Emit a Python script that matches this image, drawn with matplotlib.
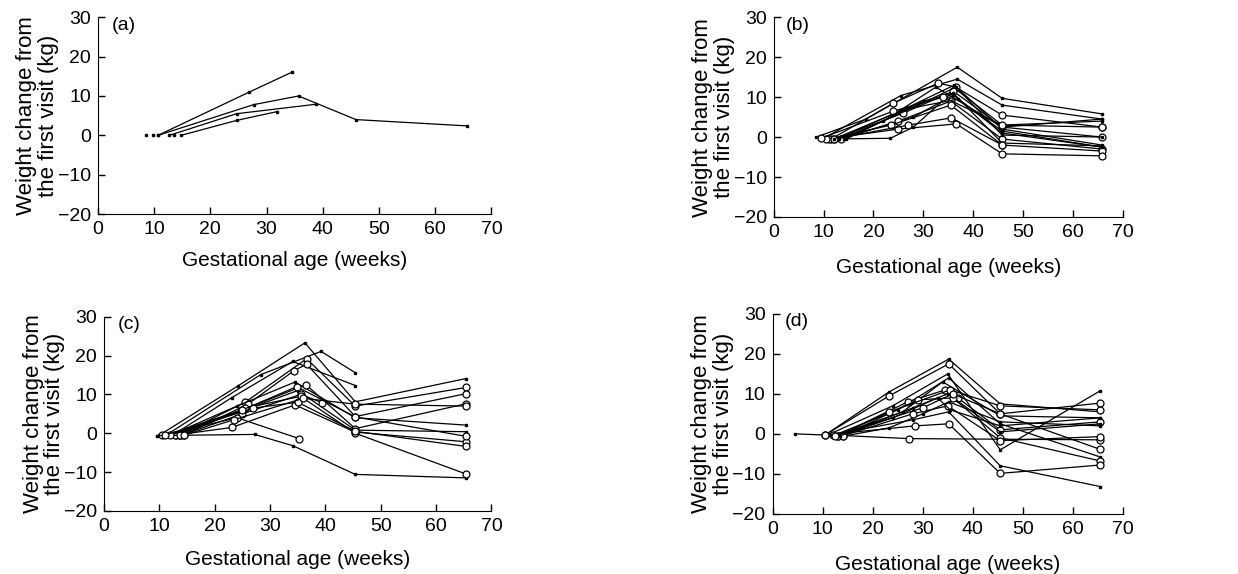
import matplotlib
matplotlib.use("Agg")
import matplotlib.pyplot as plt

plt.rcParams["font.family"] = ["Liberation Sans", "DejaVu Sans"]

# ---- data: each subject is (weeks, kg, open_marker) ----
a_lines = [
    ([10.7, 26.8, 34.6], [0, 10.9, 16.1], False),
    ([10.7, 27.7, 35.7, 45.9, 65.7], [0, 7.8, 10.0, 4.0, 2.4], False),
    ([12.7, 24.7, 38.8], [0, 5.5, 7.9], False),
    ([14.8, 24.7, 31.8], [0, 3.8, 6.0], False),
    ([8.6], [0], False),
    ([9.8], [0], False),
    ([13.6], [0], False),
]

b_lines = [
    ([8.5, 18.5, 36.8, 45.8, 65.8], [0, 4.5, 17.5, 9.7, 5.8], False),
    ([10.0, 25.5, 36.8, 45.8, 65.8], [-0.3, 10.4, 14.5, 8.0, 4.5], False),
    ([11.0, 23.4, 28.0, 36.5, 45.8, 65.8], [-0.5, -0.3, 2.5, 12.0, 3.0, 4.0], False),
    ([11.5, 24.0, 33.0, 36.5, 45.8, 65.8], [-0.5, 8.5, 13.5, 12.5, 5.5, 2.5], True),
    ([12.0, 26.0, 36.0, 45.8, 65.8], [-0.5, 6.0, 11.5, 2.5, 0.0], True),
    ([12.5, 27.0, 36.2, 45.8, 65.8], [-0.5, 7.5, 13.0, 2.0, -2.0], False),
    ([13.0, 28.0, 36.0, 45.8, 65.8], [-0.5, 5.0, 10.5, 1.0, -2.5], False),
    ([13.5, 25.0, 35.5, 45.8, 65.8], [-0.5, 4.0, 9.0, -0.5, -3.0], True),
    ([14.0, 29.0, 36.5, 45.8, 65.8], [-0.5, 8.0, 12.5, 0.5, 0.0], False),
    ([14.5, 30.0, 36.0, 45.8, 65.8], [-0.5, 9.0, 11.0, -1.5, -2.2], False),
    ([11.0, 23.5, 35.5, 45.8, 65.8], [-0.5, 3.0, 8.0, -2.0, -3.5], True),
    ([10.5, 25.0, 36.6, 45.8, 65.8], [-0.5, 2.0, 3.3, -4.2, -4.7], True),
    ([12.0, 27.0, 35.6, 45.8], [-0.5, 3.0, 4.8, -2.0], True),
    ([13.0, 22.0, 32.5, 45.8, 65.8], [-0.5, 4.0, 12.5, 2.5, 4.5], False),
    ([9.5, 24.0, 34.0, 45.8, 65.8], [-0.3, 6.5, 10.0, 3.0, 2.5], True),
    ([12.0, 26.5, 37.0, 45.8, 65.8], [-0.5, 7.0, 9.5, 1.5, -2.5], False),
]

c_lines = [
    ([10.0, 24.2, 36.3, 45.4, 65.4], [-0.5, 12.2, 23.3, 8.1, 14.1], False),
    ([11.2, 28.3, 39.2, 45.4], [-0.5, 15.1, 21.1, 15.6], False),
    ([12.4, 23.1, 34.1, 45.4], [-0.5, 9.2, 18.5, 12.3], False),
    ([13.5, 25.5, 36.6, 45.4, 65.4], [-0.5, 8.0, 19.2, 7.0, 11.8], True),
    ([14.4, 26.0, 34.3, 36.6, 45.4, 65.4], [-0.5, 7.5, 16.1, 17.8, 4.3, 10.2], True),
    ([12.0, 24.0, 34.5, 45.4, 65.4], [-0.5, 7.0, 13.2, 4.0, 2.1], False),
    ([13.0, 25.0, 36.5, 45.4, 65.4], [-0.5, 6.0, 12.5, 1.2, 7.6], True),
    ([11.5, 24.5, 35.0, 45.4, 65.4], [-0.5, 5.5, 11.0, 0.8, 0.4], False),
    ([14.0, 25.0, 35.5, 39.4], [-0.5, 5.0, 10.0, 7.9], True),
    ([12.8, 23.1, 34.5, 45.4, 65.4], [-0.5, 1.5, 7.3, 0.3, -2.2], True),
    ([10.5, 24.0, 35.3], [-0.5, 4.0, -1.4], True),
    ([9.5, 27.2, 34.1, 45.4, 65.4], [-0.6, -0.3, -3.2, -10.6, -11.5], False),
    ([13.8, 25.5, 35.5, 45.4, 65.4], [-0.5, 6.5, 9.5, 0.0, -10.5], True),
    ([12.0, 27.0, 35.0, 45.4, 65.4], [-0.5, 6.5, 8.0, 0.5, -3.4], True),
    ([14.5, 23.5, 36.0, 45.4, 65.4], [-0.5, 3.5, 9.0, 7.5, 7.0], True),
    ([11.0, 25.0, 34.8, 45.4, 65.4], [-0.5, 6.0, 12.0, 4.2, -0.8], True),
]

d_lines = [
    ([4.4, 10.5, 23.3, 35.2, 45.5, 65.5], [0, -0.3, 10.5, 18.7, 7.5, 5.5], False),
    ([10.5, 23.3, 35.2, 45.5, 65.5], [-0.3, 9.5, 17.5, 5.0, 7.7], True),
    ([11.0, 24.0, 35.0, 45.5, 65.5], [-0.3, 7.0, 15.0, -4.0, 10.8], False),
    ([12.0, 25.0, 35.2, 45.5, 65.5], [-0.5, 6.0, 14.0, 2.5, -5.8], False),
    ([12.5, 26.0, 34.0, 45.5, 65.5], [-0.5, 5.5, 13.0, 4.5, 4.0], False),
    ([13.0, 27.0, 34.5, 37.0, 45.5, 65.5], [-0.5, 8.0, 11.0, 9.0, 1.0, 3.0], True),
    ([13.5, 28.0, 35.0, 45.5, 65.5], [-0.5, 6.5, 10.0, 0.5, 2.5], False),
    ([14.0, 29.0, 36.0, 45.5, 65.5], [-0.5, 8.5, 9.0, -1.0, -6.8], True),
    ([14.5, 23.3, 30.0, 35.2, 45.5, 65.5], [-0.5, 1.5, 5.0, 8.0, 3.0, 2.0], False),
    ([12.0, 27.3, 65.5], [-0.3, -1.2, -1.5], True),
    ([11.5, 28.0, 35.2, 45.5, 65.5], [-0.3, 3.5, 5.5, -8.0, -13.2], False),
    ([10.5, 28.5, 35.2, 45.5, 65.5], [-0.3, 2.0, 2.5, -9.9, -7.8], True),
    ([13.0, 23.3, 35.5, 45.5, 65.5], [-0.5, 5.5, 11.0, 7.0, 6.0], True),
    ([14.0, 28.0, 35.0, 45.5, 65.5], [-0.5, 5.0, 7.0, -1.7, -0.7], True),
    ([12.5, 30.0, 36.0, 45.5, 65.5], [-0.5, 6.5, 10.0, 5.0, -3.9], True),
    ([13.5, 24.0, 33.0, 35.5, 45.5, 65.5], [-0.5, 4.0, 9.0, 6.0, 2.0, 4.0], False),
]

# label, data, axes rect, xlabel pad
panels = [
    ("(a)", a_lines, [0.079, 0.627, 0.318, 0.343], 9),
    ("(b)", b_lines, [0.625, 0.622, 0.282, 0.348], 12),
    ("(c)", c_lines, [0.084, 0.110, 0.313, 0.338], 11),
    ("(d)", d_lines, [0.624, 0.105, 0.283, 0.348], 12.5),
]

fig = plt.figure(figsize=(12.38, 5.74), dpi=100)

for label, lines, rect, xpad in panels:
    ax = fig.add_axes(rect)
    for xs, ys, is_open in lines:
        if is_open:
            ax.plot(xs, ys, color="black", lw=0.9, marker="o", ms=5,
                    mfc="white", mec="black", mew=0.9)
        else:
            ax.plot(xs, ys, color="black", lw=0.9, marker="s", ms=2,
                    mfc="black", mec="black")
    ax.set_xlim(0, 70)
    ax.set_ylim(-20, 30)
    ax.set_xticks(range(0, 71, 10))
    ax.set_yticks(range(-20, 31, 10))
    ax.set_yticklabels(["\u221220", "\u221210", "0", "10", "20", "30"])
    ax.spines["top"].set_visible(False)
    ax.spines["right"].set_visible(False)
    ax.tick_params(direction="in", length=5, width=1, labelsize=14, pad=5)
    ax.set_xlabel("Gestational age (weeks)", fontsize=15, labelpad=xpad)
    ax.set_ylabel("Weight change from\nthe first visit (kg)", fontsize=16,
                  labelpad=-1, linespacing=1.05)
    ax.text(2.5, 28, label, fontsize=14, va="center", ha="left")

fig.savefig("out.png", dpi=100)
